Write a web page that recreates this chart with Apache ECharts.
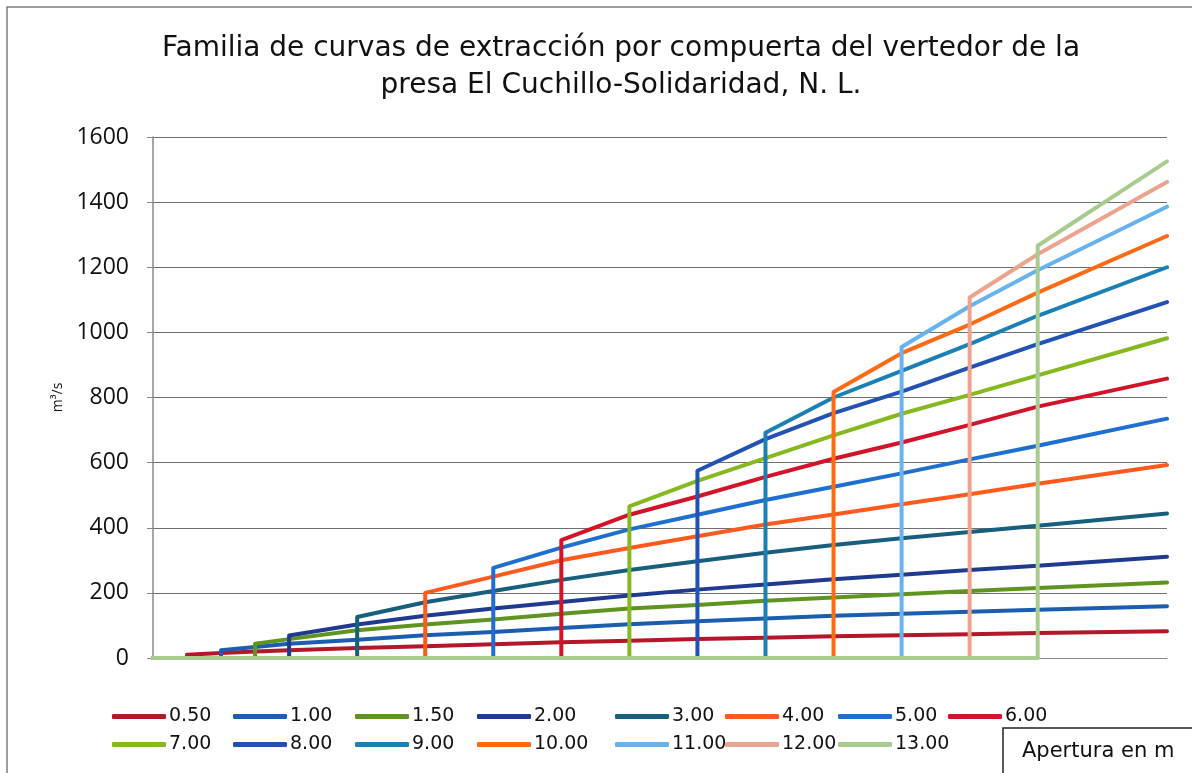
<!DOCTYPE html>
<html>
<head>
<meta charset="utf-8">
<script src="https://cdn.jsdelivr.net/npm/echarts@6/dist/echarts.min.js"></script>
<style>
  html, body { margin: 0; padding: 0; background: #fff; }
  #chart { width: 1192px; height: 773px; }
</style>
</head>
<body>
<div id="chart"></div>
<script>
// Curvas de extraccion por compuerta - El Cuchillo-Solidaridad
const xGrid = [0.5, 1, 1.5, 2, 3, 4, 5, 6, 7, 8, 9, 10, 11, 12, 13, 14.9];
const apertures = ["0.50", "1.00", "1.50", "2.00", "3.00", "4.00", "5.00", "6.00",
  "7.00", "8.00", "9.00", "10.00", "11.00", "12.00", "13.00"];
const yTicks = [0, 200, 400, 600, 800, 1000, 1200, 1400, 1600];

// gasto (m3/s) leido en cada punto de xGrid; null = compuerta aun no abre
const q050 = [10, 15, 20, 24, 31, 36, 42, 48, 53, 58, 62, 67, 70, 73, 77, 82];
const q100 = [null, 24, 34, 44, 56, 70, 80, 92, 104, 113, 121, 130, 136, 142, 148, 159];
const q150 = [null, null, 44, 58, 85, 103, 118, 136, 152, 163, 176, 186, 196, 206, 215, 232];
const q200 = [null, null, null, 69, 103, 130, 152, 172, 192, 210, 226, 242, 256, 270, 283, 311];
const q300 = [null, null, null, null, 126, 171, 206, 240, 270, 297, 323, 347, 368, 387, 406, 444];
const q400 = [null, null, null, null, null, 200, 250, 300, 338, 374, 410, 441, 472, 503, 535, 593];
const q500 = [null, null, null, null, null, null, 277, 339, 395, 440, 485, 526, 567, 610, 652, 735];
const q600 = [null, null, null, null, null, null, null, 362, 440, 496, 556, 612, 662, 716, 772, 858];
const q700 = [null, null, null, null, null, null, null, null, 466, 544, 614, 684, 750, 808, 868, 982];
const q800 = [null, null, null, null, null, null, null, null, null, 575, 672, 752, 818, 892, 964, 1093];
const q900 = [null, null, null, null, null, null, null, null, null, null, 692, 800, 882, 964, 1051, 1200];
const q1000 = [null, null, null, null, null, null, null, null, null, null, null, 817, 936, 1024, 1122, 1296];
const q1100 = [null, null, null, null, null, null, null, null, null, null, null, null, 955, 1080, 1191, 1386];
const q1200 = [null, null, null, null, null, null, null, null, null, null, null, null, null, 1107, 1240, 1462];
const q1300 = [null, null, null, null, null, null, null, null, null, null, null, null, null, null, 1266, 1525];

const seriesValues = [q050, q100, q150, q200, q300, q400, q500, q600,
  q700, q800, q900, q1000, q1100, q1200, q1300];

const colors = ["#b3172a", "#1b5eb0", "#5f9420", "#1f3a8f", "#175f7c", "#ff5a1e", "#1e6fd0", "#d2142b",
  "#86b81f", "#2252b2", "#1b80b4", "#ff6b14", "#67b2ef", "#eba48d", "#a8cc8e"];

// cada curva: cero hasta que abre la compuerta, salto vertical y luego crece
function buildLine(values) {
  const first = values.findIndex((v) => v != null);
  const pts = [[0, 0], [xGrid[first], 0]];
  values.forEach((v, i) => {
    if (v != null) pts.push([xGrid[i], v]);
  });
  return pts;
}

const legendCols = [112, 233, 355, 477, 615, 725, 838, 948];
const legendRows = [707, 735];
const legends = apertures.map((name, i) => ({
  data: [name],
  left: legendCols[i % 8],
  top: legendRows[Math.floor(i / 8)],
  icon: "roundRect",
  itemWidth: 54,
  itemHeight: 5,
  itemGap: 0,
  padding: 0,
  selectedMode: false,
  textStyle: { fontFamily: "DejaVu Sans", fontSize: 19, color: "#111", padding: [0, 0, 0, -2] }
}));

const chart = echarts.init(document.getElementById("chart"));
chart.setOption({
  animation: false,
  backgroundColor: "#fff",
  color: colors,
  grid: { left: 153, right: 25, top: 137, bottom: 115 },
  legend: legends,
  xAxis: {
    type: "value",
    min: 0,
    max: xGrid[xGrid.length - 1],
    axisLine: { show: true, lineStyle: { color: "#888", width: 1 } },
    axisTick: { show: false },
    axisLabel: { show: false },
    splitLine: { show: false }
  },
  yAxis: {
    type: "value",
    min: yTicks[0],
    max: yTicks[yTicks.length - 1],
    interval: 200,
    name: "m³/s",
    nameLocation: "middle",
    nameGap: 84,
    nameRotate: 90,
    nameTextStyle: { fontFamily: "Open Sans", fontSize: 14, color: "#111" },
    axisLine: { show: true, lineStyle: { color: "#888", width: 1.5 } },
    axisTick: { show: true, inside: false, length: 6, lineStyle: { color: "#888" } },
    axisLabel: {
      fontFamily: "Open Sans",
      fontSize: 23,
      color: "#111",
      margin: 24,
      formatter: (v) => String(v)
    },
    splitLine: { lineStyle: { color: "#6f6f6f", width: 1.2 } }
  },
  series: seriesValues.map((vals, i) => ({
    name: apertures[i],
    type: "line",
    data: buildLine(vals),
    showSymbol: false,
    symbol: "none",
    lineStyle: { width: 4, color: colors[i], cap: "round", join: "round" },
    itemStyle: { color: colors[i] }
  })),
  graphic: [
    {
      type: "rect",
      shape: { x: 7, y: 7, width: 1200, height: 800 },
      style: { fill: "none", stroke: "#808080", lineWidth: 1.5 },
      silent: true
    },
    {
      type: "text",
      x: 621,
      y: 30,
      style: {
        text: "Familia de curvas de extracción por compuerta del vertedor de la\npresa El Cuchillo-Solidaridad, N. L.",
        fontFamily: "DejaVu Sans",
        fontSize: 28,
        lineHeight: 37,
        fill: "#111",
        textAlign: "center",
        textVerticalAlign: "top"
      }
    },
    {
      type: "rect",
      z: 100,
      shape: { x: 1003, y: 728, width: 200, height: 60 },
      style: { fill: "none", stroke: "#222", lineWidth: 1.5 }
    },
    {
      type: "text",
      z: 100,
      x: 1022,
      y: 752,
      style: {
        text: "Apertura en m",
        fontFamily: "DejaVu Sans",
        fontSize: 21,
        fill: "#111",
        textVerticalAlign: "middle"
      }
    }
  ]
});
</script>
</body>
</html>
